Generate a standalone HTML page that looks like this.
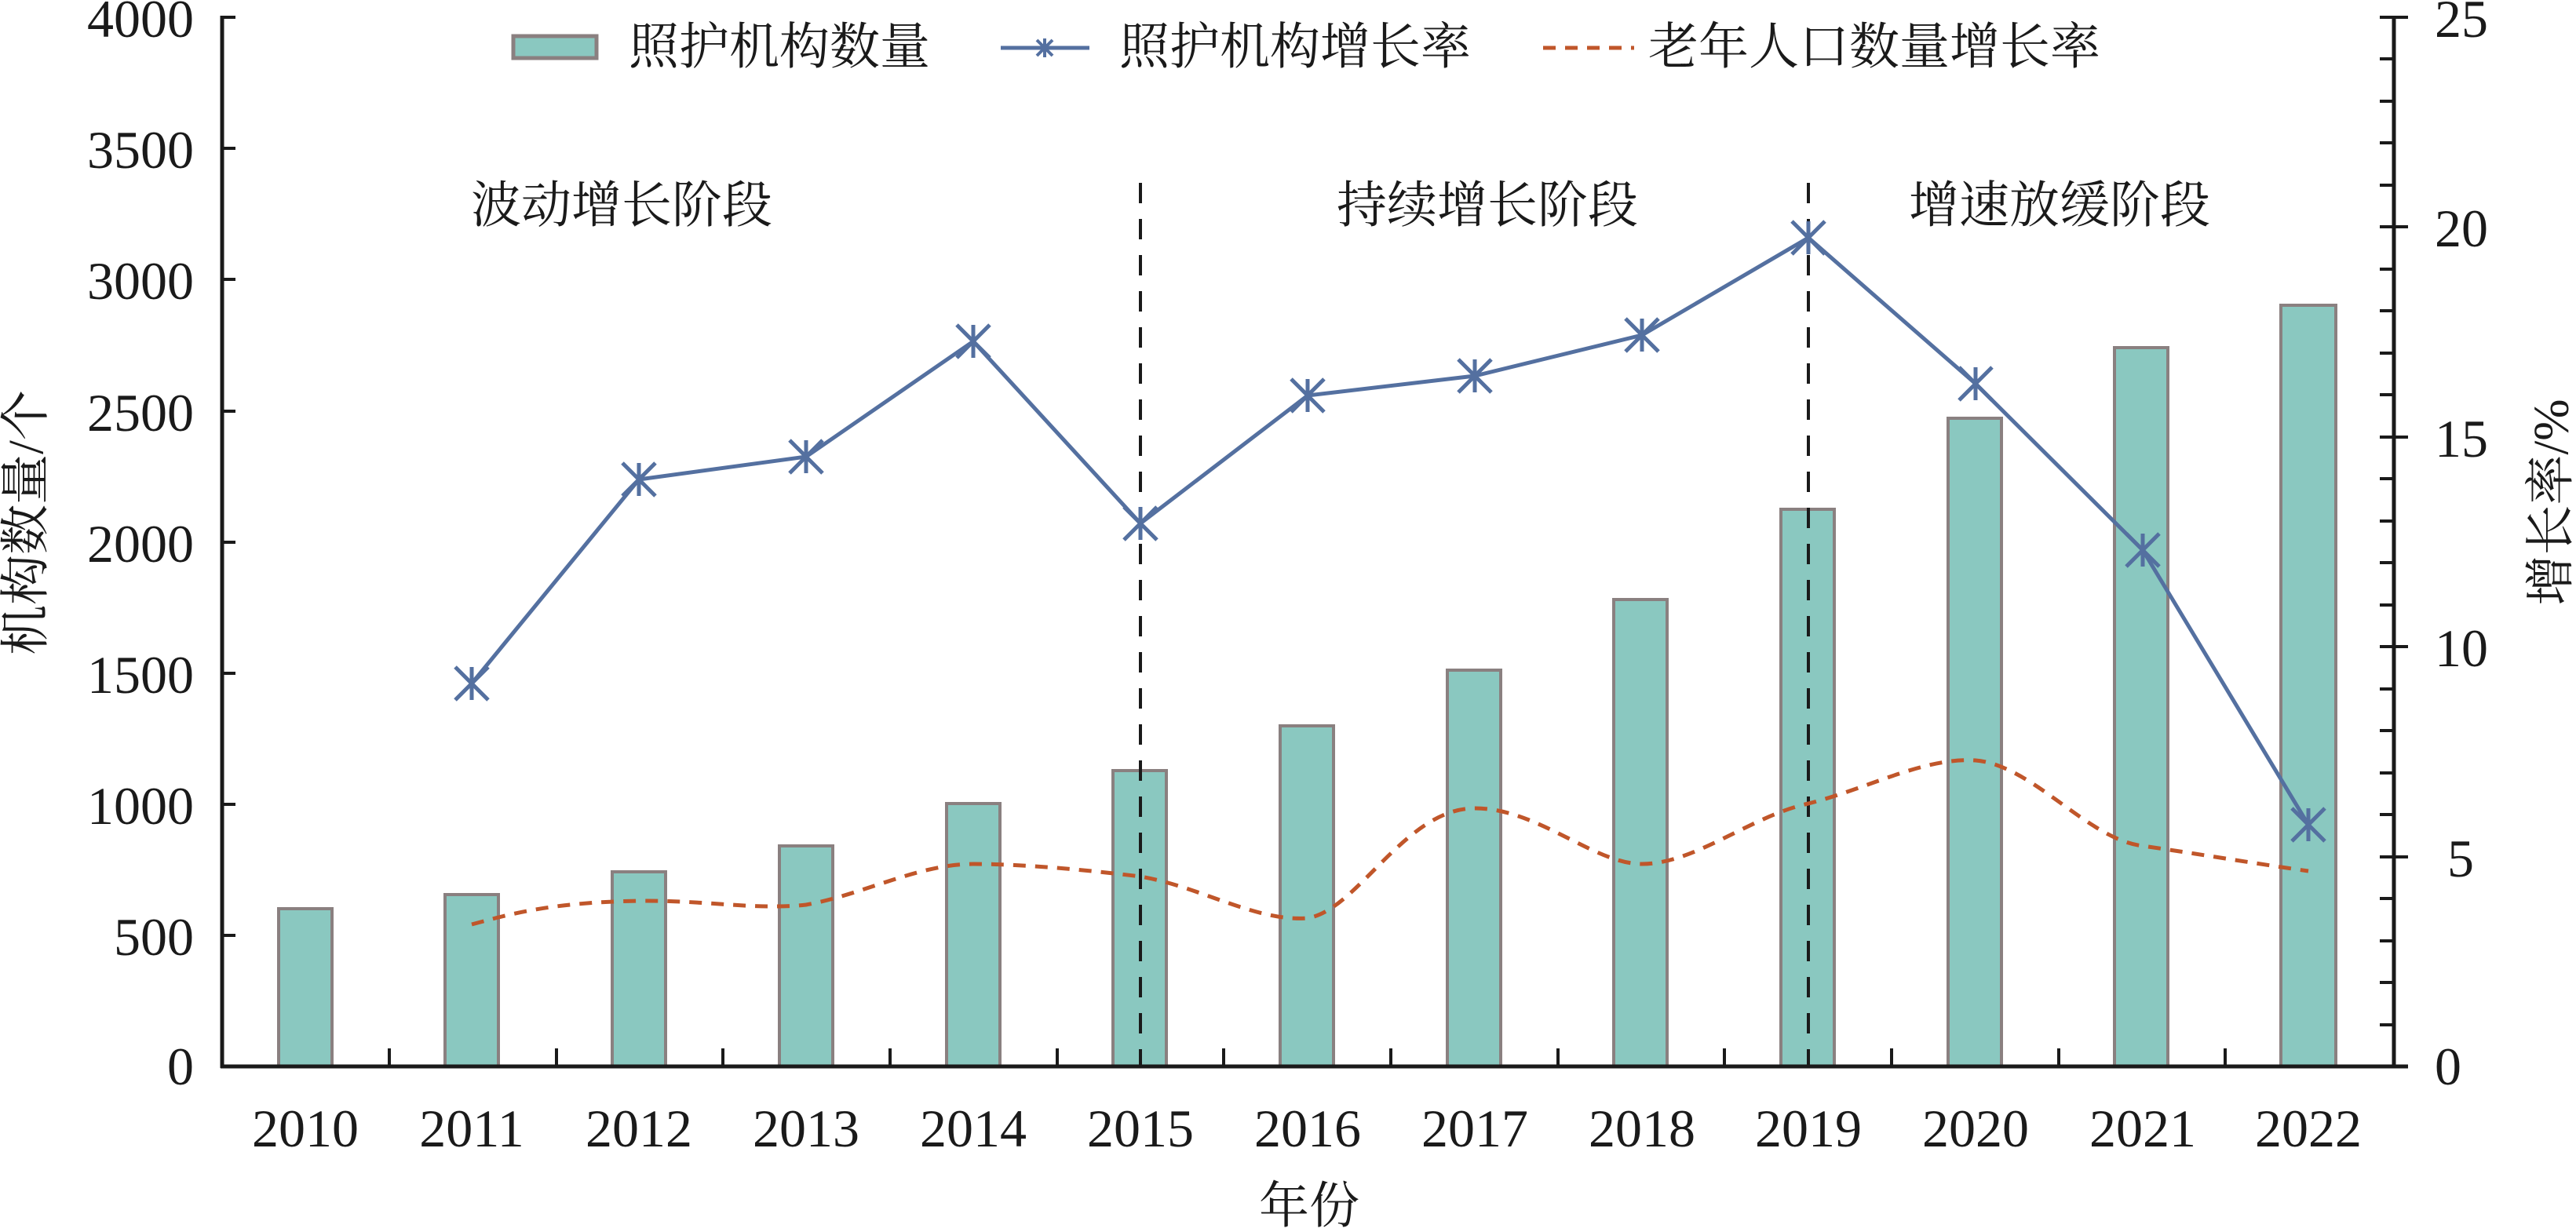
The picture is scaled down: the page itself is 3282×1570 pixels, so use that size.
<!DOCTYPE html>
<html><head><meta charset="utf-8"><style>
html,body{margin:0;padding:0;background:#fff}
svg{display:block}
.n{font-family:"Liberation Serif",serif;font-size:68px;fill:#1a1a1a}
.c{font-family:"Liberation Serif","Noto Serif CJK SC",serif;font-size:64px;fill:#1a1a1a}
</style></head><body>
<svg width="3282" height="1570" viewBox="0 0 3282 1570" xmlns="http://www.w3.org/2000/svg">
<rect width="3282" height="1570" fill="#fff"/>
<g fill="#8ac8c0" stroke="#8a8080" stroke-width="4">
<rect x="355" y="1158" width="68" height="201"/>
<rect x="567" y="1140" width="68" height="219"/>
<rect x="780" y="1111" width="68" height="248"/>
<rect x="993" y="1078" width="68" height="281"/>
<rect x="1206" y="1024" width="68" height="335"/>
<rect x="1418" y="982" width="68" height="377"/>
<rect x="1631" y="925" width="68" height="434"/>
<rect x="1844" y="854" width="68" height="505"/>
<rect x="2056" y="764" width="68" height="595"/>
<rect x="2269" y="649" width="68" height="710"/>
<rect x="2482" y="533" width="68" height="826"/>
<rect x="2694" y="443" width="68" height="916"/>
<rect x="2906" y="389" width="70" height="970"/>
</g>
<g stroke="#1a1a1a" stroke-width="4" stroke-dasharray="26,20">
<line x1="1453" y1="233" x2="1453" y2="1359"/>
<line x1="2304" y1="233" x2="2304" y2="1359"/>
</g>
<path d="M601,1178 C650,1165 700,1150 814,1148 C900,1147 960,1160 1027,1153 C1100,1140 1170,1101 1240,1101 C1300,1101 1380,1108 1453,1117 C1530,1130 1600,1175 1666,1170 C1730,1160 1790,1030 1879,1030 C1960,1030 2030,1101 2092,1101 C2160,1101 2230,1040 2304,1024 C2380,1005 2450,965 2517,969 C2590,975 2660,1070 2730,1078 C2800,1088 2870,1100 2941,1110"
 fill="none" stroke="#c0562a" stroke-width="5" stroke-dasharray="16,12"/>
<polyline fill="none" stroke="#5470a0" stroke-width="5" points="601,871 814,611 1027,582 1240,435 1453,667 1666,504 1879,479 2092,427 2304,303 2517,489 2730,701 2941,1051"/>
<g stroke="#5470a0" stroke-width="5" fill="none">
<path transform="translate(601,871)" d="M-21,-21L21,21M-21,21L21,-21M0,-21L0,21"/>
<path transform="translate(814,611)" d="M-21,-21L21,21M-21,21L21,-21M0,-21L0,21"/>
<path transform="translate(1027,582)" d="M-21,-21L21,21M-21,21L21,-21M0,-21L0,21"/>
<path transform="translate(1240,435)" d="M-21,-21L21,21M-21,21L21,-21M0,-21L0,21"/>
<path transform="translate(1453,667)" d="M-21,-21L21,21M-21,21L21,-21M0,-21L0,21"/>
<path transform="translate(1666,504)" d="M-21,-21L21,21M-21,21L21,-21M0,-21L0,21"/>
<path transform="translate(1879,479)" d="M-21,-21L21,21M-21,21L21,-21M0,-21L0,21"/>
<path transform="translate(2092,427)" d="M-21,-21L21,21M-21,21L21,-21M0,-21L0,21"/>
<path transform="translate(2304,303)" d="M-21,-21L21,21M-21,21L21,-21M0,-21L0,21"/>
<path transform="translate(2517,489)" d="M-21,-21L21,21M-21,21L21,-21M0,-21L0,21"/>
<path transform="translate(2730,701)" d="M-21,-21L21,21M-21,21L21,-21M0,-21L0,21"/>
<path transform="translate(2941,1051)" d="M-21,-21L21,21M-21,21L21,-21M0,-21L0,21"/>
</g>
<g stroke="#1a1a1a" stroke-width="5" fill="none">
<line x1="283" y1="20" x2="283" y2="1361"/>
<line x1="3050" y1="20" x2="3050" y2="1361"/>
<line x1="281" y1="1359" x2="3068" y2="1359"/>
</g>
<g stroke="#1a1a1a" stroke-width="4">
<line x1="283" y1="22" x2="300" y2="22"/><line x1="283" y1="189" x2="300" y2="189"/>
<line x1="283" y1="356" x2="300" y2="356"/><line x1="283" y1="524" x2="300" y2="524"/>
<line x1="283" y1="691" x2="300" y2="691"/><line x1="283" y1="858" x2="300" y2="858"/>
<line x1="283" y1="1025" x2="300" y2="1025"/><line x1="283" y1="1192" x2="300" y2="1192"/>
<line x1="496" y1="1336" x2="496" y2="1359"/><line x1="709" y1="1336" x2="709" y2="1359"/>
<line x1="921" y1="1336" x2="921" y2="1359"/><line x1="1134" y1="1336" x2="1134" y2="1359"/>
<line x1="1347" y1="1336" x2="1347" y2="1359"/><line x1="1559" y1="1336" x2="1559" y2="1359"/>
<line x1="1772" y1="1336" x2="1772" y2="1359"/><line x1="1985" y1="1336" x2="1985" y2="1359"/>
<line x1="2197" y1="1336" x2="2197" y2="1359"/><line x1="2410" y1="1336" x2="2410" y2="1359"/>
<line x1="2623" y1="1336" x2="2623" y2="1359"/><line x1="2835" y1="1336" x2="2835" y2="1359"/>
</g>
<g stroke="#1a1a1a" stroke-width="4">
<line x1="3032" y1="22" x2="3068" y2="22"/><line x1="3032" y1="289" x2="3068" y2="289"/>
<line x1="3032" y1="557" x2="3068" y2="557"/><line x1="3032" y1="824" x2="3068" y2="824"/>
<line x1="3032" y1="1092" x2="3068" y2="1092"/>
<line x1="3032" y1="75" x2="3050" y2="75"/><line x1="3032" y1="129" x2="3050" y2="129"/><line x1="3032" y1="182" x2="3050" y2="182"/><line x1="3032" y1="236" x2="3050" y2="236"/>
<line x1="3032" y1="343" x2="3050" y2="343"/><line x1="3032" y1="396" x2="3050" y2="396"/><line x1="3032" y1="450" x2="3050" y2="450"/><line x1="3032" y1="503" x2="3050" y2="503"/>
<line x1="3032" y1="610" x2="3050" y2="610"/><line x1="3032" y1="664" x2="3050" y2="664"/><line x1="3032" y1="717" x2="3050" y2="717"/><line x1="3032" y1="771" x2="3050" y2="771"/>
<line x1="3032" y1="878" x2="3050" y2="878"/><line x1="3032" y1="931" x2="3050" y2="931"/><line x1="3032" y1="985" x2="3050" y2="985"/><line x1="3032" y1="1038" x2="3050" y2="1038"/>
<line x1="3032" y1="1145" x2="3050" y2="1145"/><line x1="3032" y1="1199" x2="3050" y2="1199"/><line x1="3032" y1="1252" x2="3050" y2="1252"/><line x1="3032" y1="1306" x2="3050" y2="1306"/>
</g>
<g class="n" text-anchor="end" dominant-baseline="central">
<text x="247" y="24">4000</text><text x="247" y="191">3500</text><text x="247" y="358">3000</text>
<text x="247" y="526">2500</text><text x="247" y="693">2000</text><text x="247" y="860">1500</text>
<text x="247" y="1027">1000</text><text x="247" y="1194">500</text><text x="247" y="1359">0</text>
</g>
<g class="n" text-anchor="start" dominant-baseline="central">
<text x="3102" y="24">25</text><text x="3102" y="291">20</text><text x="3102" y="559">15</text>
<text x="3102" y="826">10</text><text x="3118" y="1094">5</text><text x="3102" y="1359">0</text>
</g>
<g class="n" text-anchor="middle" dominant-baseline="central">
<text x="389" y="1438">2010</text><text x="601" y="1438">2011</text><text x="814" y="1438">2012</text>
<text x="1027" y="1438">2013</text><text x="1240" y="1438">2014</text><text x="1453" y="1438">2015</text>
<text x="1666" y="1438">2016</text><text x="1879" y="1438">2017</text><text x="2092" y="1438">2018</text>
<text x="2304" y="1438">2019</text><text x="2517" y="1438">2020</text><text x="2730" y="1438">2021</text>
<text x="2941" y="1438">2022</text>
</g>
<text class="c" x="1668" y="1537" text-anchor="middle" dominant-baseline="central">年份</text>
<text class="c" transform="translate(33,666) rotate(-90)" text-anchor="middle" dominant-baseline="central">机构数量/个</text>
<text class="c" transform="translate(3250,640) rotate(-90)" text-anchor="middle" dominant-baseline="central">增长率/%</text>
<g class="c" dominant-baseline="central">
<text x="600" y="262">波动增长阶段</text>
<text x="1703" y="262">持续增长阶段</text>
<text x="2432" y="262">增速放缓阶段</text>
</g>
<rect x="654" y="46" width="106" height="28" fill="#8ac8c0" stroke="#8a8080" stroke-width="5"/>
<text class="c" x="801" y="60" dominant-baseline="central">照护机构数量</text>
<line x1="1275" y1="61" x2="1388" y2="61" stroke="#5470a0" stroke-width="5"/>
<path transform="translate(1331,61)" d="M-10,-10L10,10M-10,10L10,-10M0,-12L0,12" stroke="#5470a0" stroke-width="4" fill="none"/>
<text class="c" x="1426" y="60" dominant-baseline="central">照护机构增长率</text>
<line x1="1966" y1="61" x2="2082" y2="61" stroke="#c0562a" stroke-width="5" stroke-dasharray="16,12"/>
<text class="c" x="2100" y="60" dominant-baseline="central">老年人口数量增长率</text>
</svg>
</body></html>
